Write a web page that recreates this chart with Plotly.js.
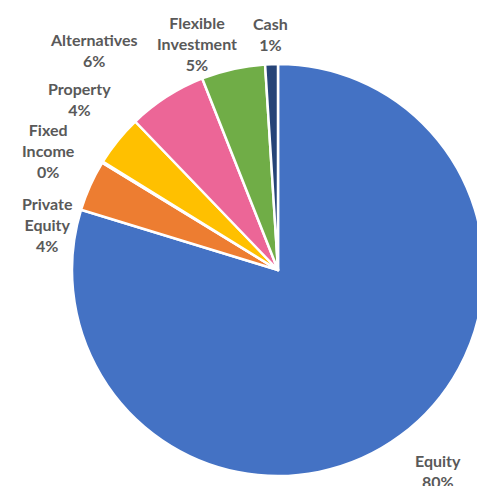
<!DOCTYPE html>
<html><head><meta charset="utf-8">
<script src="https://cdn.plot.ly/plotly-3.0.1.min.js"></script>
<style>html,body{margin:0;padding:0;overflow:hidden;background:#fff;}#chart{width:490px;height:495px;}</style>
</head><body><div id="chart"></div>
<script>
const categories = ['Equity','Private Equity','Fixed Income','Property','Alternatives','Flexible Investment','Cash'];
const labelText = ['Equity','Private<br>Equity','Fixed<br>Income','Property','Alternatives','Flexible<br>Investment','Cash'];
const values = [79.8, 4.0, 0.1, 4.0, 6.2, 5.0, 1.0];
const colors = ['#4472C4','#ED7D31','#A5A5A5','#FFC000','#EC6697','#70AD47','#264478'];
// label block centres (pixels in the 490x495 figure)
const labelX = [438, 47, 48, 79, 94, 197, 270];
const labelY = [471, 224, 151, 99, 50, 43, 34];

const W = 490, H = 495;
const total = values.reduce((a, b) => a + b, 0);
const annotations = categories.map((c, i) => ({
  xref: 'paper', yref: 'paper',
  x: labelX[i] / W, y: 1 - labelY[i] / H,
  xanchor: 'center', yanchor: 'middle',
  showarrow: false, align: 'center',
  text: '<b>' + labelText[i] + '<br>' + Math.round(values[i] / total * 100) + '%</b>',
  font: {family: 'Lato, sans-serif', size: 16, color: '#595959'}
}));

Plotly.newPlot('chart', [{
  type: 'pie',
  labels: categories,
  values: values,
  sort: false,
  direction: 'clockwise',
  rotation: 0,
  marker: {colors: colors, line: {color: '#ffffff', width: 2.5}},
  textinfo: 'none',
  hoverinfo: 'none',
  domain: {x: [72/W, 484/W], y: [1 - 476/H, 1 - 64/H]}
}], {
  width: W, height: H,
  margin: {l: 0, r: 0, t: 0, b: 0},
  showlegend: false,
  paper_bgcolor: '#ffffff',
  annotations: annotations
}, {staticPlot: true, displayModeBar: false});
</script>
</body></html>
